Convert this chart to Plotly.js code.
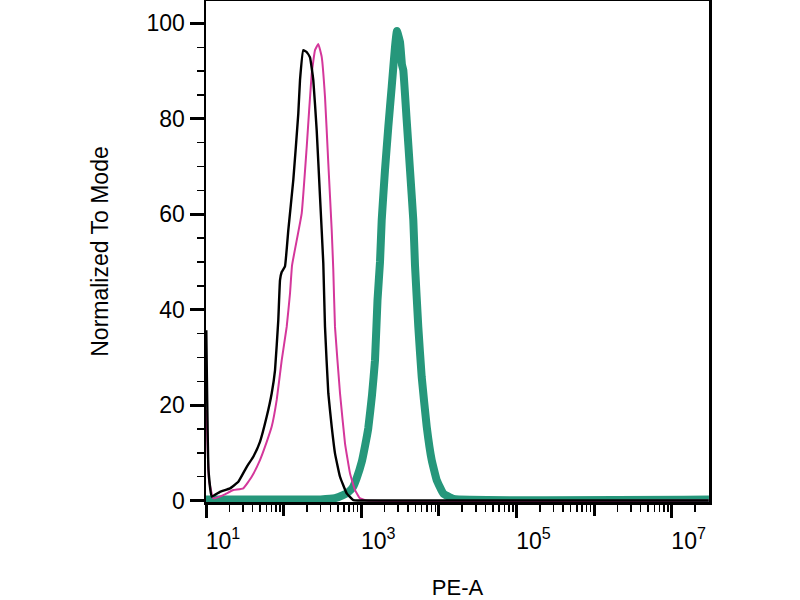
<!DOCTYPE html>
<html>
<head>
<meta charset="utf-8">
<script src="https://cdn.plot.ly/plotly-3.0.1.min.js"></script>
<style>html,body{margin:0;padding:0;background:#fff;}#chart{width:800px;height:600px;}</style>
</head>
<body>
<div id="chart"></div>
<script>
// PE-A fluorescence (linear values on a log axis) and % of mode
const blackX = [10.09, 10.77, 11.85, 15.15, 20.4, 26.1, 33.5, 40.7, 49.6, 60.6, 70.3, 77.5, 85.4, 89.9, 94.5, 104.2, 115.0, 133.4, 154.7, 162.7, 179.4, 198.5, 218.9, 241.4, 267.0, 294.5, 324.8, 341.6, 376.7, 416.7, 459.5, 533.2, 650.5, 791, 1500, 30000000];
const blackY = [35.7, 6.4, 0.84, 1.84, 2.56, 3.94, 7.08, 9.18, 12.3, 17.6, 22.5, 27.3, 37.8, 46.2, 47.9, 49.1, 56.7, 67.2, 81.1, 88.1, 94.4, 94.0, 92.9, 88.1, 77.6, 63.7, 49.7, 36.4, 22.5, 15.5, 9.9, 4.99, 1.5, 0.1, 0, 0];

const magentaX = [10.15, 10.93, 12.42, 16.71, 22.5, 30.2, 38.8, 49.6, 60.6, 70.3, 81.5, 94.5, 109.6, 120.9, 128.5, 171.1, 198.5, 230.2, 253.9, 280.0, 309.7, 341.6, 376.7, 416.7, 437, 459.5, 533.2, 618.4, 717.4, 832.1, 965, 1177, 30000000];
const magentaY = [19.0, 4.3, 0.46, 1.15, 2.2, 2.56, 4.99, 8.49, 12.3, 15.5, 21.1, 29.4, 36.4, 43.4, 49.3, 60.2, 74.1, 89.5, 94.4, 95.7, 93.0, 84.6, 70.7, 56.7, 48.3, 36.4, 22.5, 12.0, 5.7, 2.2, 0.46, 0, 0];

const tealX = [10, 300, 459.5, 583, 682, 784, 874.9, 1015, 1119, 1234, 1378, 1506, 1622, 1747, 1838, 2026, 2235, 2472, 2727, 2868, 2893, 3162, 3356, 3487, 3857, 4255, 4692, 4935, 5443, 6020, 6985, 8099, 9396, 11430, 15380, 30300000];
const tealY = [0.25, 0.25, 0.5, 1.15, 1.78, 2.83, 4.7, 8.07, 11.4, 15.2, 22.1, 29.4, 42.0, 50.0, 58.8, 69.3, 78.3, 86.7, 95.1, 98.2, 98.4, 96.1, 91.3, 90.2, 79.7, 69.3, 58.8, 49.3, 36.4, 25.9, 15.5, 8.49, 4.3, 1.5, 0.35, 0.2];

const xLabelVals = [1e1, 1e3, 1e5, 1e7];
const xLabelText = ['10<sup>1</sup>', '10<sup>3</sup>', '10<sup>5</sup>', '10<sup>7</sup>'];
const xEvenDecades = [1e2, 1e4, 1e6];
const yTickVals = [0, 20, 40, 60, 80, 100];
const yTickText = ['0', '20', '40', '60', '80', '100'];

const xMinorVals = [];
for (const d of [1e1, 1e2, 1e3, 1e4, 1e5, 1e6, 1e7]) {
  for (let k = 2; k <= 9; k++) {
    if (d * k < 3.0e7) xMinorVals.push(d * k);
  }
}

const data = [
  {x: tealX, y: tealY, type: 'scatter', mode: 'lines', name: 'PE stained',
   line: {color: '#26977b', width: 8, shape: 'spline', smoothing: 0.3}},
  {x: magentaX, y: magentaY, type: 'scatter', mode: 'lines', name: 'Isotype control',
   line: {color: '#d4379b', width: 2, shape: 'spline', smoothing: 0.3}},
  {x: blackX, y: blackY, type: 'scatter', mode: 'lines', name: 'Unstained', xaxis: 'x2',
   line: {color: '#000000', width: 2.4, shape: 'spline', smoothing: 0.3}}
];

const font = {family: 'Liberation Sans, Arial, sans-serif', color: '#000'};
const xRange = [1, 7.482];

const layout = {
  width: 800, height: 600,
  margin: {l: 206, r: 91, t: 1, b: 98, pad: 0},
  paper_bgcolor: '#fff', plot_bgcolor: '#fff',
  showlegend: false,
  font: Object.assign({size: 23}, font),
  xaxis: {
    type: 'log', range: xRange,
    tickmode: 'array', tickvals: xLabelVals, ticktext: xLabelText,
    ticks: 'outside', ticklen: 13, tickwidth: 3, tickcolor: '#000',
    ticklabelshift: 17, ticklabelstandoff: 4,
    minor: {tickmode: 'array', tickvals: xMinorVals, ticks: 'outside', ticklen: 7, tickwidth: 1.5, tickcolor: '#000', showgrid: false},
    showline: true, linecolor: '#000', linewidth: 2.5, mirror: true,
    showgrid: false, zeroline: false,
    tickfont: Object.assign({size: 23}, font),
    title: {text: 'PE-A', font: Object.assign({size: 22}, font), standoff: 34}
  },
  xaxis2: {
    type: 'log', range: xRange, overlaying: 'x', anchor: 'y', side: 'bottom',
    tickmode: 'array', tickvals: xEvenDecades, showticklabels: false,
    ticks: 'outside', ticklen: 13, tickwidth: 3, tickcolor: '#000',
    showline: false, showgrid: false, zeroline: false
  },
  yaxis: {
    range: [-0.3, 104.7],
    tickmode: 'array', tickvals: yTickVals, ticktext: yTickText,
    ticks: 'outside', ticklen: 14, tickwidth: 3, tickcolor: '#000',
    minor: {dtick: 5, ticks: 'outside', ticklen: 7, tickwidth: 1.5, tickcolor: '#000', showgrid: false},
    showline: true, linecolor: '#000', linewidth: 2.5, mirror: true,
    showgrid: false, zeroline: false,
    tickfont: Object.assign({size: 23}, font),
    title: {text: 'Normalized To Mode', font: Object.assign({size: 23}, font), standoff: 32}
  }
};

Plotly.newPlot('chart', data, layout, {staticPlot: true, displayModeBar: false});
</script>
</body>
</html>
